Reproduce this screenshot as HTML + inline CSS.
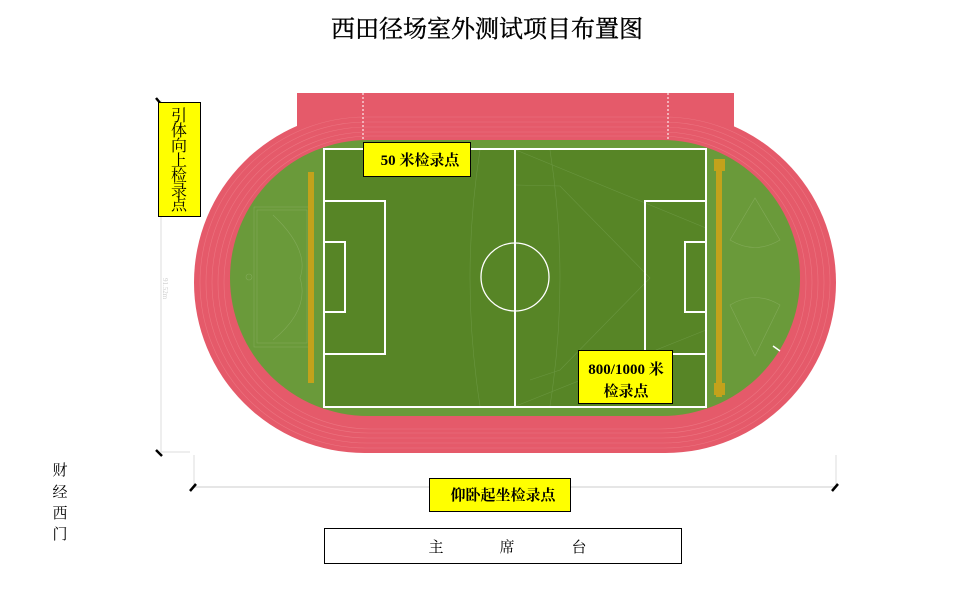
<!DOCTYPE html>
<html><head><meta charset="utf-8"><style>
html,body{margin:0;padding:0;background:#fff;width:975px;height:594px;overflow:hidden}
svg{display:block}
text{font-family:"Liberation Serif","Noto Serif CJK SC","Noto Sans CJK SC",serif}
</style></head><body>
<svg width="975" height="594" viewBox="0 0 975 594" xmlns="http://www.w3.org/2000/svg">
<text x="487" y="37" font-size="24" text-anchor="middle" fill="#000" stroke="#000" stroke-width="0.4">西田径场室外测试项目布置图</text>
<!-- dimension lines -->
<line x1="161" y1="100" x2="161" y2="452" stroke="#ddd" stroke-width="1"/>
<line x1="161" y1="452" x2="190" y2="452" stroke="#ddd"/>
<line x1="194" y1="455" x2="194" y2="487" stroke="#ddd"/>
<line x1="836" y1="455" x2="836" y2="487" stroke="#ddd"/>
<line x1="194" y1="487" x2="836" y2="487" stroke="#ddd" stroke-width="1.5"/>
<line x1="156" y1="98" x2="161" y2="104" stroke="#000" stroke-width="2.5"/>
<line x1="156" y1="450" x2="162" y2="456" stroke="#000" stroke-width="2.5"/>
<line x1="190" y1="491" x2="196" y2="484" stroke="#000" stroke-width="2.5"/>
<line x1="832" y1="491" x2="838" y2="484" stroke="#000" stroke-width="2.5"/>
<text x="163" y="278" font-size="7" fill="#ccc" transform="rotate(90 163 278)" font-family="Liberation Sans">91.52m</text>
<!-- track -->
<rect x="297" y="93" width="437" height="50" fill="#e55a6a"/>
<rect x="194" y="112" width="642" height="341" rx="170.5" ry="170.5" fill="#e55a6a"/>
<g fill="none" stroke="#ec7480" stroke-width="0.6">
<rect x="200" y="117" width="630" height="331" rx="165.5"/>
<rect x="206" y="122" width="618" height="321" rx="160.5"/>
<rect x="212" y="127" width="606" height="311" rx="155.5"/>
<rect x="218" y="132" width="594" height="301" rx="150.5"/>
<rect x="224" y="136" width="582" height="293" rx="146.5"/>
</g>
<line x1="363" y1="93" x2="363" y2="140" stroke="#f3b0b8" stroke-width="2" stroke-dasharray="2 2"/>
<line x1="668" y1="93" x2="668" y2="140" stroke="#f3b0b8" stroke-width="2" stroke-dasharray="2 2"/>
<rect x="230" y="140" width="570" height="276" rx="138" ry="138" fill="#6a9a3a"/>
<g fill="none" stroke="#82aa58" stroke-width="0.6">
<rect x="254" y="207" width="56" height="140"/>
<rect x="257" y="210" width="50" height="133"/>
<path d="M273 215 Q310 250 300 278 Q310 310 273 340"/>
<circle cx="249" cy="277" r="3"/>
<path d="M730 240 L755 198 L780 240 Q755 255 730 240Z"/>
<path d="M730 305 Q755 290 780 305 L755 356Z"/>
</g>
<!-- field -->
<rect x="324" y="149" width="382" height="258" fill="#578526"/>
<g fill="none" stroke="#6a9640" stroke-width="0.6">
<path d="M480 150 Q460 278 480 406"/>
<path d="M550 150 Q570 278 550 406"/>
<path d="M516 185 L560 186 L650 278 L560 370 L530 380"/>
<line x1="516" y1="150" x2="706" y2="228"/>
<line x1="516" y1="406" x2="706" y2="330"/>
</g>
<g fill="none" stroke="#fff" stroke-width="2">
<rect x="324" y="149" width="382" height="258"/>
<line x1="515" y1="149" x2="515" y2="407"/>
<circle cx="515" cy="277" r="34" stroke-width="1.3"/>
<rect x="324" y="201" width="61" height="153"/>
<rect x="324" y="242" width="21" height="70"/>
<rect x="645" y="201" width="61" height="153"/>
<rect x="685" y="242" width="21" height="70"/>
</g>
<line x1="773" y1="346" x2="780" y2="351" stroke="#fff" stroke-width="1.5"/>
<!-- bars -->
<rect x="308" y="172" width="6" height="211" fill="#c3a21b"/>
<rect x="716" y="160" width="6" height="237" fill="#c3a21b"/>
<rect x="714" y="159" width="11" height="12" fill="#c3a21b"/>
<rect x="714" y="383" width="11" height="12" fill="#c3a21b"/>
<!-- labels -->
<rect x="158.5" y="102.5" width="42" height="114" fill="#ff0" stroke="#000"/>
<text font-size="16" fill="#000" text-anchor="middle">
<tspan x="179" y="121">引</tspan><tspan x="179" y="136">体</tspan><tspan x="179" y="151">向</tspan><tspan x="179" y="166">上</tspan><tspan x="179" y="181">检</tspan><tspan x="179" y="196">录</tspan><tspan x="179" y="210">点</tspan></text>
<rect x="363.5" y="142.5" width="107" height="34" fill="#ff0" stroke="#000"/>
<text x="420" y="165" font-size="15" font-weight="bold" text-anchor="middle">50 米检录点</text>
<rect x="578.5" y="350.5" width="94" height="53" fill="#ff0" stroke="#000"/>
<text x="626" y="374" font-size="15" font-weight="bold" text-anchor="middle">800/1000 米</text>
<text x="626" y="396" font-size="15" font-weight="bold" text-anchor="middle">检录点</text>
<rect x="429.5" y="478.5" width="141" height="33" fill="#ff0" stroke="#000"/>
<text x="503" y="500" font-size="15" font-weight="bold" text-anchor="middle">仰卧起坐检录点</text>
<rect x="324.5" y="528.5" width="357" height="35" fill="#fff" stroke="#000"/>
<text y="552" font-size="15" text-anchor="middle"><tspan x="436">主</tspan><tspan x="507">席</tspan><tspan x="579">台</tspan></text>
<text font-size="15" text-anchor="middle"><tspan x="60" y="475">财</tspan><tspan x="60" y="497">经</tspan><tspan x="60" y="518">西</tspan><tspan x="60" y="539">门</tspan></text>
</svg>
</body></html>
